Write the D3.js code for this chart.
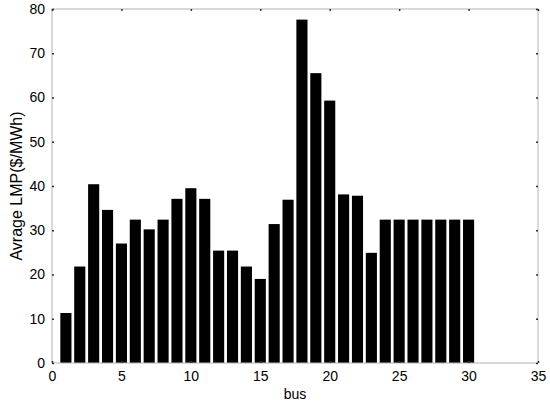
<!DOCTYPE html>
<style>
body { margin: 0; background: #fff; }
text { font-family: "Liberation Sans", Arial, sans-serif; }
</style>
<svg width="550" height="406"></svg>
<script src="https://d3js.org/d3.v7.min.js"></script>
<script>

var buses = d3.range(1, 31);
var lmp = [11.3, 21.8, 40.4, 34.6, 27.0, 32.4, 30.2, 32.4, 37.1, 39.5,
           37.1, 25.4, 25.4, 21.8, 19.0, 31.4, 36.9, 77.6, 65.5, 59.3,
           38.1, 37.8, 24.9, 32.4, 32.4, 32.4, 32.4, 32.4, 32.4, 32.4];
var xTicks = [0, 5, 10, 15, 20, 25, 30, 35];
var yTicks = [0, 10, 20, 30, 40, 50, 60, 70, 80];

var svg = d3.select("svg"),
    margin = {top: 9, right: 12, bottom: 43, left: 52},
    width = +svg.attr("width") - margin.left - margin.right,
    height = +svg.attr("height") - margin.top - margin.bottom,
    g = svg.append("g").attr("transform", "translate(" + margin.left + "," + margin.top + ")");

var x = d3.scaleLinear().domain([0, 35]).range([0, width]);
var y = d3.scaleLinear().domain([0, 80]).range([height, 0]);
var bw = x(0.8) - x(0);

// bars
g.selectAll(".bar")
  .data(lmp)
  .enter().append("rect")
    .attr("class", "bar")
    .attr("x", function(d, i) { return x(buses[i]) - bw / 2; })
    .attr("y", function(d) { return y(d); })
    .attr("width", bw)
    .attr("height", function(d) { return height - y(d); })
    .attr("fill", "#000");

// box
g.append("rect")
    .attr("width", width)
    .attr("height", height)
    .attr("fill", "none")
    .attr("stroke", "#b4b4b4")
    .attr("stroke-width", 1);

// tick marks, inward on all four sides
function drawTicks(axis, sel) {
  sel.call(axis);
  sel.select(".domain").remove();
  sel.selectAll("line").attr("stroke", "#333").attr("stroke-width", 1.5);
  return sel;
}

var axB = drawTicks(d3.axisBottom(x).tickValues(xTicks).tickSizeInner(-2).tickSizeOuter(0).tickPadding(8),
    g.append("g").attr("transform", "translate(0," + height + ")"));
axB.selectAll("text").attr("font-size", 14).attr("fill", "#000");

drawTicks(d3.axisTop(x).tickValues(xTicks).tickSizeInner(-2).tickSizeOuter(0).tickFormat(""), g.append("g"));

var axL = drawTicks(d3.axisLeft(y).tickValues(yTicks).tickSizeInner(-2).tickSizeOuter(0).tickPadding(7), g.append("g"));
axL.selectAll("text").attr("font-size", 14).attr("fill", "#000");

drawTicks(d3.axisRight(y).tickValues(yTicks).tickSizeInner(-2).tickSizeOuter(0).tickFormat(""),
    g.append("g").attr("transform", "translate(" + width + ",0)"));

// labels
svg.append("text")
    .attr("x", margin.left + width / 2)
    .attr("y", 399)
    .attr("text-anchor", "middle")
    .attr("font-size", 14)
    .text("bus");

svg.append("text")
    .attr("transform", "translate(22," + (margin.top + height / 2) + ") rotate(-90)")
    .attr("text-anchor", "middle")
    .attr("font-size", 16)
    .text("Avrage LMP($/MWh)");

</script>
